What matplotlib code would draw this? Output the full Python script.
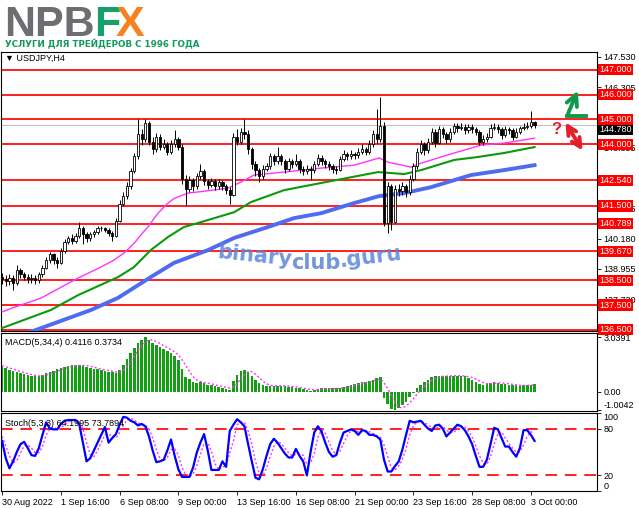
import matplotlib
matplotlib.use("Agg")
import matplotlib.pyplot as plt
from matplotlib.lines import Line2D
from matplotlib.patches import FancyArrowPatch
import numpy as np

plt.rcParams["font.family"] = ["Liberation Sans", "DejaVu Sans"]

W, H = 639, 508

# ---------------------------------------------------------------------------
# Data (USDJPY H4)
# ---------------------------------------------------------------------------
opens = [
    138.65, 138.55, 138.45, 138.60, 138.40, 138.90, 138.75, 138.65, 138.55, 138.60,
    138.50, 138.75, 139.00, 139.30, 139.55, 139.30, 139.20, 139.70, 140.05, 140.20,
    140.10, 140.30, 140.60, 140.35, 140.20, 140.35, 140.45, 140.60, 140.60, 140.55,
    140.40, 140.30, 140.90, 141.60, 141.90, 142.30, 142.90, 143.50, 144.40, 144.20,
    144.85, 144.10, 143.80, 144.30, 143.90, 144.00, 143.70, 144.00, 144.20, 143.90,
    142.60, 142.20, 142.55, 142.30, 142.70, 142.90, 142.50, 142.35, 142.50, 142.30,
    142.45, 142.30, 142.15, 141.95, 144.30, 144.10, 144.50, 144.40, 143.80, 143.20,
    142.95, 142.70, 143.00, 143.10, 143.50, 143.30, 143.50, 143.30, 143.00, 143.30,
    143.20, 143.30, 143.00, 142.90, 143.00, 142.95, 143.20, 143.45, 143.30, 143.20,
    143.10, 143.00, 142.95, 143.40, 143.60, 143.50, 143.60, 143.55, 143.70, 143.80,
    143.70, 144.00, 144.40, 144.20, 144.75, 140.80, 142.30, 140.85, 142.20, 142.10,
    142.30, 142.05, 142.60, 143.10, 143.70, 144.00, 143.75, 144.10, 144.50, 144.05,
    144.60, 144.40, 144.20, 144.50, 144.75, 144.65, 144.70, 144.55, 144.70, 144.60,
    144.50, 144.10, 144.20, 144.30, 144.65, 144.70, 144.60, 144.35, 144.60, 144.55,
    144.30, 144.50, 144.65, 144.70, 144.75, 144.90,
]
highs = [
    138.80, 138.70, 138.75, 138.70, 139.10, 139.00, 138.85, 138.75, 138.75, 138.70,
    138.85, 139.10, 139.45, 139.65, 139.60, 139.45, 139.80, 140.15, 140.30, 140.35,
    140.40, 140.85, 140.70, 140.45, 140.45, 140.55, 140.70, 140.70, 140.65, 140.60,
    140.50, 141.00, 141.75, 142.05, 142.45, 143.05, 143.65, 145.00, 144.60, 145.02,
    144.95, 144.30, 144.45, 144.40, 144.20, 144.10, 144.15, 144.55, 144.30, 144.00,
    142.75, 142.70, 142.65, 142.85, 143.20, 143.00, 142.60, 142.65, 142.60, 142.60,
    142.55, 142.40, 142.25, 144.45, 144.60, 144.65, 145.00, 144.55, 143.90, 143.30,
    143.05, 143.15, 143.25, 143.65, 143.60, 143.90, 143.60, 143.40, 143.45, 143.40,
    143.60, 143.40, 143.10, 143.15, 143.10, 143.30, 143.60, 143.55, 143.40, 143.30,
    143.20, 143.10, 143.50, 143.75, 143.70, 143.75, 143.70, 143.85, 144.00, 143.90,
    144.15, 144.55, 145.40, 145.90, 144.90, 142.45, 142.40, 142.35, 142.40, 142.45,
    142.40, 142.75, 143.25, 143.85, 144.15, 144.10, 144.25, 144.65, 144.60, 144.75,
    144.70, 144.50, 144.65, 144.85, 144.85, 144.85, 144.80, 144.80, 144.80, 144.70,
    144.55, 144.35, 144.45, 144.80, 144.85, 144.80, 144.70, 144.75, 144.70, 144.65,
    144.65, 144.75, 144.85, 144.90, 145.35, 144.95,
]
lows = [
    138.35, 138.25, 138.30, 138.10, 138.30, 138.60, 138.50, 138.40, 138.40, 138.35,
    138.40, 138.65, 138.95, 139.20, 139.15, 139.00, 139.15, 139.60, 139.95, 139.95,
    140.00, 140.20, 139.95, 140.05, 140.10, 140.25, 140.35, 140.50, 140.45, 140.30,
    140.10, 140.25, 140.85, 141.50, 141.80, 142.20, 142.85, 143.40, 143.95, 144.10,
    143.95, 143.60, 143.70, 143.75, 143.80, 143.55, 143.60, 143.90, 143.75, 142.40,
    141.55, 142.05, 142.10, 142.20, 142.60, 142.35, 142.20, 142.25, 142.15, 142.20,
    142.15, 142.00, 141.60, 141.90, 143.95, 144.00, 144.20, 143.60, 143.00, 142.70,
    142.45, 142.60, 142.90, 143.00, 143.15, 143.20, 143.15, 142.85, 142.90, 143.05,
    143.10, 142.85, 142.75, 142.80, 142.55, 142.85, 143.10, 143.15, 143.05, 142.95,
    142.85, 142.80, 142.90, 143.30, 143.35, 143.40, 143.40, 143.45, 143.60, 143.55,
    143.60, 143.90, 144.05, 144.10, 140.70, 140.40, 140.55, 140.80, 141.90, 141.95,
    141.85, 141.95, 142.50, 143.00, 143.60, 143.55, 143.65, 144.00, 143.90, 144.00,
    144.25, 144.05, 144.10, 144.40, 144.50, 144.55, 144.40, 144.45, 144.45, 144.35,
    143.95, 143.95, 144.10, 144.25, 144.55, 144.45, 144.20, 144.30, 144.40, 144.15,
    144.25, 144.40, 144.55, 144.60, 144.65, 144.65,
]
closes = [
    138.55, 138.45, 138.60, 138.40, 138.90, 138.75, 138.65, 138.55, 138.60, 138.50,
    138.75, 139.00, 139.30, 139.55, 139.30, 139.20, 139.70, 140.05, 140.20, 140.10,
    140.30, 140.60, 140.35, 140.20, 140.35, 140.45, 140.60, 140.60, 140.55, 140.40,
    140.30, 140.90, 141.60, 141.90, 142.30, 142.90, 143.50, 144.40, 144.20, 144.85,
    144.10, 143.80, 144.30, 143.90, 144.00, 143.70, 144.00, 144.20, 143.90, 142.60,
    142.20, 142.55, 142.30, 142.70, 142.90, 142.50, 142.35, 142.50, 142.30, 142.45,
    142.30, 142.15, 141.95, 144.30, 144.10, 144.50, 144.40, 143.80, 143.20, 142.95,
    142.70, 143.00, 143.10, 143.50, 143.30, 143.50, 143.30, 143.00, 143.30, 143.20,
    143.30, 143.00, 142.90, 143.00, 142.95, 143.20, 143.45, 143.30, 143.20, 143.10,
    143.00, 142.95, 143.40, 143.60, 143.50, 143.60, 143.55, 143.70, 143.80, 143.70,
    144.00, 144.40, 144.20, 144.75, 140.80, 142.30, 140.85, 142.20, 142.10, 142.30,
    142.05, 142.60, 143.10, 143.70, 144.00, 143.75, 144.10, 144.50, 144.05, 144.60,
    144.40, 144.20, 144.50, 144.75, 144.65, 144.70, 144.55, 144.70, 144.60, 144.50,
    144.10, 144.20, 144.30, 144.65, 144.70, 144.60, 144.35, 144.60, 144.55, 144.30,
    144.50, 144.65, 144.70, 144.75, 144.90, 144.78,
]

# moving averages, read at a few bar positions
ma_fast_bar = [0, 2.4, 10.6, 20.7, 26.9, 30.5, 33.2, 36.0, 37.8, 39.7, 42.4, 45.2,
               46.8, 50.6, 54.2, 61.5, 65.1, 68.6, 76.8, 86.9, 95.9, 102.7, 105.1,
               111.4, 114.1, 123.1, 130.5, 136.7, 145]
ma_fast = [137.22, 137.36, 137.78, 138.59, 139.03, 139.32, 139.60, 140.00, 140.33,
           140.65, 141.20, 141.62, 141.80, 142.02, 142.08, 142.22, 142.47, 142.75,
           142.87, 143.03, 143.15, 143.44, 143.27, 143.07, 143.23, 143.64, 143.96,
           144.04, 144.24]
ma_mid_bar = [0, 13.3, 20.7, 31.6, 35.9, 40.5, 45.2, 49.5, 54.2, 63.2, 67.8, 76.8,
              86.9, 102.4, 109.5, 114.1, 123.1, 129.6, 136.7, 145]
ma_mid = [136.57, 137.30, 137.90, 138.63, 139.03, 139.72, 140.25, 140.65, 140.85,
          141.25, 141.66, 142.14, 142.43, 142.87, 142.79, 142.95, 143.36, 143.48,
          143.64, 143.88]
ma_slow_bar = [0, 9.2, 24.2, 31.6, 40.5, 46.8, 56.1, 63.2, 72.4, 79.5, 86.9, 95.9,
               102.7, 109.5, 116.8, 127.7, 136.7, 145]
ma_slow = [136.05, 136.49, 137.30, 137.79, 138.63, 139.20, 139.72, 140.21, 140.65,
           141.01, 141.21, 141.62, 141.90, 142.02, 142.26, 142.75, 142.95, 143.15]

macd_hist = [
    1.36, 1.30, 1.22, 1.15, 1.10, 1.05, 0.98, 0.92, 0.88, 0.85,
    0.88, 0.95, 1.02, 1.10, 1.18, 1.25, 1.32, 1.40, 1.44, 1.47,
    1.48, 1.49, 1.46, 1.40, 1.34, 1.28, 1.24, 1.20, 1.15, 1.12,
    1.08, 1.05, 1.20, 1.50, 1.85, 2.15, 2.45, 2.70, 2.90, 3.04,
    2.89, 2.74, 2.62, 2.51, 2.40, 2.30, 2.15, 1.99, 1.77, 1.25,
    0.84, 0.70, 0.55, 0.50, 0.52, 0.47, 0.40, 0.35, 0.30, 0.28,
    0.22, 0.16, 0.12, 0.60, 0.93, 1.15, 1.21, 1.12, 0.90, 0.65,
    0.47, 0.35, 0.30, 0.32, 0.33, 0.33, 0.32, 0.30, 0.28, 0.25,
    0.22, 0.18, 0.14, 0.10, 0.05, 0.10, 0.15, 0.18, 0.19, 0.18,
    0.19, 0.18, 0.22, 0.28, 0.33, 0.38, 0.43, 0.48, 0.52, 0.56,
    0.62, 0.68, 0.75, 0.80, -0.35, -0.70, -0.95, -1.00, -0.90, -0.75,
    -0.55, -0.30, -0.10, 0.19, 0.38, 0.56, 0.65, 0.80, 0.85, 0.86,
    0.87, 0.88, 0.89, 0.90, 0.90, 0.88, 0.85, 0.78, 0.68, 0.55,
    0.45, 0.40, 0.45, 0.50, 0.52, 0.50, 0.45, 0.42, 0.40, 0.38,
    0.35, 0.33, 0.35, 0.38, 0.40, 0.41,
]
macd_signal = [
    1.45, 1.40, 1.33, 1.26, 1.19, 1.13, 1.07, 1.01, 0.96, 0.91,
    0.88, 0.89, 0.92, 0.99, 1.06, 1.14, 1.21, 1.29, 1.35, 1.41,
    1.45, 1.47, 1.47, 1.46, 1.42, 1.37, 1.31, 1.26, 1.22, 1.18,
    1.14, 1.10, 1.11, 1.19, 1.40, 1.67, 1.99, 2.29, 2.55, 2.77,
    2.89, 2.89, 2.80, 2.69, 2.57, 2.46, 2.34, 2.22, 2.05, 1.79,
    1.46, 1.14, 0.84, 0.65, 0.57, 0.51, 0.47, 0.44, 0.38, 0.33,
    0.29, 0.24, 0.20, 0.27, 0.45, 0.71, 0.97, 1.12, 1.12, 0.97,
    0.79, 0.59, 0.44, 0.36, 0.33, 0.32, 0.33, 0.32, 0.31, 0.29,
    0.26, 0.23, 0.20, 0.16, 0.12, 0.10, 0.10, 0.12, 0.15, 0.17,
    0.18, 0.18, 0.19, 0.22, 0.25, 0.30, 0.35, 0.40, 0.45, 0.50,
    0.54, 0.60, 0.65, 0.71, 0.50, 0.18, -0.20, -0.62, -0.87, -0.90,
    -0.80, -0.62, -0.40, -0.14, 0.10, 0.31, 0.50, 0.65, 0.75, 0.82,
    0.86, 0.87, 0.88, 0.89, 0.89, 0.89, 0.88, 0.84, 0.79, 0.70,
    0.60, 0.51, 0.45, 0.45, 0.47, 0.49, 0.49, 0.47, 0.44, 0.41,
    0.38, 0.36, 0.35, 0.35, 0.37, 0.37,
]

stoch_k = [
    64, 42, 29, 38, 50, 60, 63, 55, 46, 45,
    55, 72, 88, 80, 79, 79, 86, 90, 91, 91,
    91, 86, 62, 38, 42, 52, 62, 72, 82, 62,
    68, 73, 85, 95, 94, 90, 88, 84, 86, 83,
    70, 52, 37, 38, 40, 52, 66, 45, 28, 18,
    18, 18, 30, 49, 62, 73, 52, 27, 27, 27,
    38, 31, 77, 85, 92, 88, 83, 60, 38, 17,
    15, 28, 45, 60, 67, 62, 55, 48, 43, 43,
    54, 45, 38, 20, 50, 75, 83, 76, 62, 50,
    44, 46, 62, 75, 77, 79, 77, 72, 78, 77,
    72, 72, 70, 66, 40, 25, 25, 32, 38, 53,
    72, 90, 88, 89, 90, 85, 80, 77, 84, 85,
    80, 70, 75, 80, 85, 83, 78, 70, 60, 45,
    31, 31, 40, 60, 81, 79, 68, 57, 57, 50,
    44, 55, 78, 78, 72, 64.2,
]
stoch_d = [
    70, 58, 45, 36, 39, 49, 58, 59, 55, 49,
    49, 57, 72, 80, 82, 79, 81, 85, 89, 91,
    91, 89, 80, 62, 47, 44, 52, 62, 72, 72,
    71, 68, 75, 84, 91, 93, 91, 87, 86, 84,
    80, 68, 53, 42, 38, 43, 53, 54, 46, 30,
    21, 18, 22, 32, 47, 61, 62, 51, 35, 27,
    31, 32, 49, 64, 85, 88, 88, 77, 60, 38,
    23, 20, 29, 44, 57, 63, 61, 55, 49, 45,
    47, 47, 46, 34, 36, 48, 69, 78, 74, 63,
    52, 47, 51, 61, 71, 77, 78, 76, 76, 76,
    76, 74, 71, 69, 59, 44, 30, 27, 32, 41,
    54, 72, 83, 89, 89, 88, 85, 81, 80, 82,
    83, 78, 75, 75, 80, 83, 82, 77, 69, 58,
    45, 36, 34, 44, 60, 73, 76, 68, 61, 55,
    50, 50, 59, 70, 76, 73.8,
]

levels = [147.0, 146.0, 145.0, 144.0, 142.54, 141.5, 140.789, 139.67, 138.5, 137.5, 136.5]
price_ticks = [147.530, 146.305, 145.080, 143.855, 142.630, 141.405, 140.180, 138.955, 137.730]
# two of the axis labels sit fully behind the red level tags
price_tick_labels = ["147.530", "146.305", "", "143.855", "", "141.405", "140.180",
                     "138.955", "137.730"]
last_price = 144.78
date_ticks = [0, 16, 32, 48, 64, 80, 96, 112, 128, 144]
date_labels = ["30 Aug 2022", "1 Sep 16:00", "6 Sep 08:00", "9 Sep 00:00", "13 Sep 16:00",
               "16 Sep 08:00", "21 Sep 00:00", "23 Sep 16:00", "28 Sep 08:00", "3 Oct 00:00"]


def fx(x):
    return x / W


def fy(y):
    return 1 - y / H


def box(x0, y0, x1, y1):
    return [fx(x0), fy(y1), (x1 - x0) / W, (y1 - y0) / H]


fig = plt.figure(figsize=(W / 100, H / 100), dpi=100)
fig.patch.set_facecolor("white")

ax = fig.add_axes(box(1, 52, 597, 331))
ax_macd = fig.add_axes(box(1, 333, 597, 411))
ax_st = fig.add_axes(box(1, 413, 597, 491))

XMIN, XMAX = -0.3, 162.0
for a in (ax, ax_macd, ax_st):
    a.set_xlim(XMIN, XMAX)
    for s in a.spines.values():
        s.set_linewidth(0.8)
        s.set_color("black")
    a.yaxis.tick_right()
    a.tick_params(axis="y", direction="out", length=3, width=0.6,
                  labelsize=6.5, pad=1.5, colors="black")
    a.tick_params(axis="x", length=0)
    a.set_xticklabels([])

# ---------------------------------------------------------------------------
# Price panel
# ---------------------------------------------------------------------------
ax.set_ylim(136.45, 147.72)
ax.set_yticks(price_ticks)
ax.set_yticklabels(price_tick_labels)
ax.set_xticks([])

for lv in levels:
    ax.axhline(lv, color="#ff1f1f", lw=1.4, zorder=2)
    ax.text(1.004, lv, f"{lv:.3f}", transform=ax.get_yaxis_transform(),
            fontsize=6.5, color="white", va="center", ha="left", zorder=6,
            clip_on=False,
            bbox=dict(boxstyle="square,pad=0.12", fc="#ff0000", ec="none"))

ax.axhline(last_price, color="#c0c0c0", lw=0.8, zorder=1)
ax.text(1.004, last_price, f"{last_price:.3f}", transform=ax.get_yaxis_transform(),
        fontsize=6.5, color="white", va="top", ha="left", zorder=5, clip_on=False,
        bbox=dict(boxstyle="square,pad=0.12", fc="black", ec="none"))

# moving averages
ax.plot(ma_slow_bar, ma_slow, color="#4f6bef", lw=2.8, zorder=3, solid_joinstyle="round")
ax.plot(ma_mid_bar, ma_mid, color="#0a9a0a", lw=1.5, zorder=3)
ax.plot(ma_fast_bar, ma_fast, color="#ff33ff", lw=1.0, zorder=3)

# candles
o = np.array(opens)
c = np.array(closes)
xb = np.arange(len(c))
up = c >= o
ax.vlines(xb, lows, highs, color="black", lw=0.7, zorder=4)
body_lo = np.minimum(o, c)
body_h = np.maximum(np.abs(c - o), 0.03)
ax.bar(xb[up], body_h[up], bottom=body_lo[up], width=0.62, facecolor="white",
       edgecolor="black", lw=0.6, zorder=5)
ax.bar(xb[~up], body_h[~up], bottom=body_lo[~up], width=0.62, facecolor="black",
       edgecolor="black", lw=0.6, zorder=5)

fig.text(fx(5), fy(58), "\u25bc USDJPY,H4", fontsize=6.5, va="center", ha="left",
         family=["Liberation Sans", "DejaVu Sans"])

# watermark, laid on a slight curve
for txt, xc, yc, rot in (("binary", 255, 256, -6), ("club", 316, 263, 0), (".guru", 371, 257, 7)):
    fig.text(fx(xc), fy(yc), txt, fontsize=15, fontweight="bold", color="#5b84d9",
             alpha=0.85, ha="center", va="center", rotation=rot, family="DejaVu Sans")

# ---------------------------------------------------------------------------
# MACD panel
# ---------------------------------------------------------------------------
ax_macd.set_ylim(-1.08, 3.28)
ax_macd.bar(xb, macd_hist, width=0.7, color="#12a012", zorder=2)
ax_macd.plot(xb, macd_signal, color="#ff33ff", lw=1.0, ls=(0, (1.5, 1.5)), zorder=3)
ax_macd.set_yticks([3.0391, 0.0, -1.0042])
ax_macd.set_yticklabels(["3.0391", "0.00", "-1.0042"])
ax_macd.get_yticklabels()[2].set_verticalalignment("bottom")
ax_macd.set_xticks([])
ax_macd.text(0.007, 0.88, "MACD(5,34,4) 0.4116 0.3734", transform=ax_macd.transAxes,
             fontsize=6.5, va="center", ha="left")

# ---------------------------------------------------------------------------
# Stochastic panel
# ---------------------------------------------------------------------------
ax_st.set_ylim(0, 100)
for lv in (80, 20):
    ax_st.axhline(lv, color="#ff2020", lw=1.4, ls=(0, (6, 4)), zorder=1)
ax_st.plot(xb, stoch_d, color="#ff33ff", lw=1.0, ls=(0, (1.5, 1.5)), zorder=2)
ax_st.plot(xb, stoch_k, color="#0000ff", lw=1.6, zorder=3)
ax_st.set_yticks([100, 80, 20, 0])
ax_st.set_yticklabels(["100", "80", "20", "0"])
ax_st.get_yticklabels()[0].set_verticalalignment("top")
ax_st.get_yticklabels()[3].set_verticalalignment("bottom")
ax_st.set_xticks(date_ticks)
ax_st.set_xticklabels(date_labels, ha="left")
ax_st.tick_params(axis="x", direction="out", length=3, width=0.6, labelsize=6.5, pad=2)
ax_st.text(0.007, 0.86, "Stoch(5,3,3) 64.1995 73.7894", transform=ax_st.transAxes,
           fontsize=6.5, va="center", ha="left")

# ---------------------------------------------------------------------------
# Header logo and scenario arrows
# ---------------------------------------------------------------------------
fig.text(fx(4), fy(36), "NPB", fontsize=31, fontweight="bold", color="#6d6e71",
         ha="left", va="baseline")
fig.text(fx(94), fy(36), "F", fontsize=31, fontweight="bold", color="#16a06a",
         ha="left", va="baseline")
fig.text(fx(116), fy(36), "X", fontsize=31, fontweight="bold", color="#f5821f",
         ha="left", va="baseline")
fig.text(fx(5), fy(47), "УСЛУГИ ДЛЯ ТРЕЙДЕРОВ С 1996 ГОДА", fontsize=6.3,
         fontweight="bold", color="#139a5e", ha="left", va="baseline",
         family=["Liberation Sans Narrow", "DejaVu Sans"])

green = "#10994c"
red = "#e3202a"
fig.add_artist(Line2D([fx(586), fx(567)], [fy(116), fy(116)], color=green, lw=2.8))
fig.add_artist(FancyArrowPatch((fx(567), fy(116)), (fx(579), fy(88)),
                               transform=fig.transFigure, arrowstyle="->",
                               mutation_scale=20, lw=2.8, color=green))
fig.text(fx(556), fy(129), "?", fontsize=12, fontweight="bold", color=red,
         ha="center", va="center")
fig.add_artist(FancyArrowPatch((fx(564), fy(120)), (fx(584), fy(153)),
                               transform=fig.transFigure, arrowstyle="<->",
                               mutation_scale=16, lw=2.8, color=red))

fig.savefig("out.png", dpi=100, facecolor="white")
